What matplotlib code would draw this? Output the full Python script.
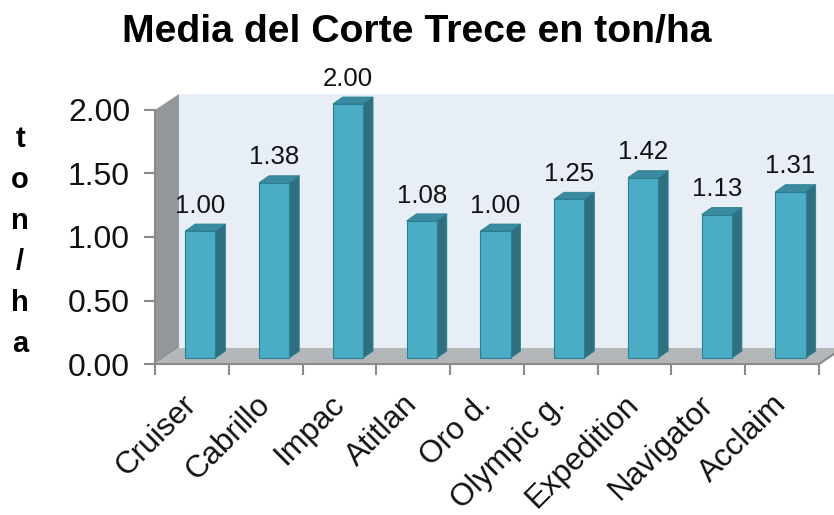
import matplotlib
matplotlib.use("Agg")
import matplotlib.pyplot as plt
from matplotlib.patches import Polygon
import numpy as np

plt.rcParams['font.family'] = ['Liberation Sans', 'DejaVu Sans']

title = "Media del Corte Trece en ton/ha"
categories = ["Cruiser", "Cabrillo", "Impac", "Atitlan", "Oro d.",
              "Olympic g.", "Expedition", "Navigator", "Acclaim"]
values = [1.00, 1.38, 2.00, 1.08, 1.00, 1.25, 1.42, 1.13, 1.31]
yticks = [0.0, 0.5, 1.0, 1.5, 2.0]
ylabel_letters = ["t", "o", "n", "/", "h", "a"]

W, H = 834, 515
fig = plt.figure(figsize=(W / 100, H / 100), dpi=100)
ax = fig.add_axes([155 / W, 151 / H, 664 / W, 254 / H])
n = len(categories)
ax.set_xlim(-0.5, n - 0.5)
ax.set_ylim(0, 2.0)

# depth offsets in data units
DX, DY = 0.325, 0.126
SX, SY = 0.115, 0.047     # bar front plane shift
BX, BY = 0.135, 0.055     # bar thickness
BW = 0.41

x0, x1 = -0.5, n - 0.5
top = 2.0
gray_line = "#8a8a8a"

# back wall
ax.add_patch(Polygon([(x0 + DX, DY), (x1 + DX + 1, DY), (x1 + DX + 1, top + DY), (x0 + DX, top + DY)],
                     closed=True, fc="#e8eef6", ec="none", clip_on=False, zorder=0))
# left wall
ax.add_patch(Polygon([(x0, 0), (x0 + DX, DY), (x0 + DX, top + DY), (x0, top)],
                     closed=True, fc="#93979b", ec="none", clip_on=False, zorder=1))
# floor
ax.add_patch(Polygon([(x0, 0), (x1, 0), (x1 + DX, DY), (x0 + DX, DY)],
                     closed=True, fc="#b4b7ba", ec="none", clip_on=False, zorder=1))
ax.plot([x0, x1, x1 + DX], [0, 0, DY], color=gray_line, lw=1.5, clip_on=False, zorder=2)

xs = np.arange(n)
front_color = "#4bacc6"
side_color = "#2f6f80"
top_color = "#3a8aa0"
edge = "#2b7f93"
for i, v in enumerate(values):
    xl = xs[i] - BW / 2 + SX
    xr = xl + BW
    b = SY
    t = SY + v
    ax.add_patch(Polygon([(xr, b), (xr + BX, b + BY), (xr + BX, t + BY), (xr, t)],
                         closed=True, fc=side_color, ec=edge, lw=0.6, clip_on=False, zorder=3))
    ax.add_patch(Polygon([(xl, t), (xr, t), (xr + BX, t + BY), (xl + BX, t + BY)],
                         closed=True, fc=top_color, ec=edge, lw=0.6, clip_on=False, zorder=3))
    ax.text(xs[i] + SX, t + BY + 0.05, f"{v:.2f}", ha="center", va="bottom",
            fontsize=18.5, color="#111111", zorder=5)

ax.bar(xs + SX, values, width=BW, bottom=SY, color=front_color, edgecolor=edge,
       linewidth=0.8, zorder=4, clip_on=False)

# axes styling
for s in ["top", "right", "bottom"]:
    ax.spines[s].set_visible(False)
ax.spines["left"].set_color(gray_line)
ax.spines["left"].set_linewidth(1.5)
ax.patch.set_visible(False)

ax.set_yticks(yticks)
ax.set_yticklabels([f"{v:.2f}" for v in yticks], fontsize=23, color="#111111")
ax.tick_params(axis="y", length=8, width=1.5, color=gray_line, pad=10)

ax.set_xticks(xs)
ax.set_xticklabels(categories, rotation=45, ha="right", va="center",
                   rotation_mode="anchor", fontsize=22.5, color="#111111")
ax.tick_params(axis="x", which="major", length=0, pad=26)
ax.set_xticks(np.arange(n + 1) - 0.5, minor=True)
ax.tick_params(axis="x", which="minor", length=8, width=1.5, color=gray_line)

fig.text(0.5 * (122 + 712) / W, 1 - 32 / H, title, ha="center", va="center",
         fontsize=28.3, fontweight="bold")

for k, ch in enumerate(ylabel_letters):
    fig.text(20 / W, 1 - (147 + 41 * k) / H, ch, ha="center", va="baseline",
             fontsize=21, fontweight="bold")

fig.savefig("out.png", dpi=100)
